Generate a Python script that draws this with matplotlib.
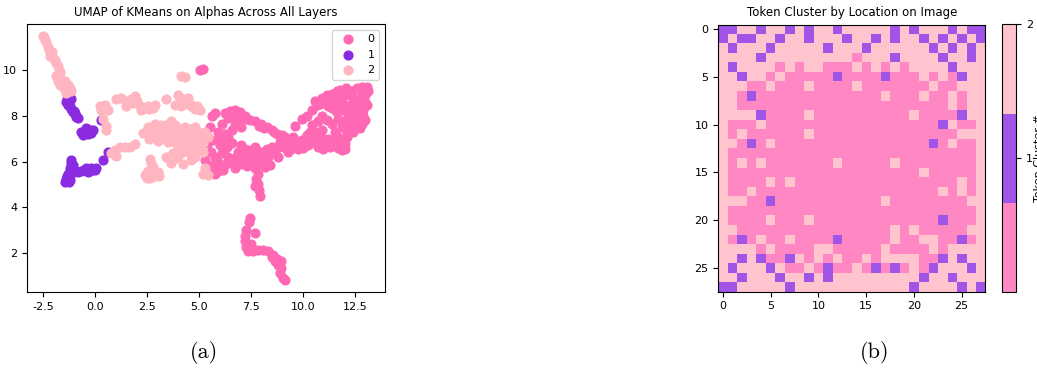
import numpy as np
import matplotlib
matplotlib.use("Agg")
import matplotlib.pyplot as plt
from matplotlib.colors import ListedColormap
from matplotlib.ticker import MultipleLocator, FormatStrFormatter

# UMAP embedding coordinates, one pair of lists per KMeans cluster
cluster0_x = [5.03, 5.2,
              5.6, 5.76, 5.52, 5.92, 5.76, 5.43, 6.0, 6.32, 6.08, 6.4, 5.76, 5.27, 5.43, 5.68,
              5.92, 6.16, 5.43, 5.76, 6.56, 6.72, 6.56, 6.24, 6.4,
              6.24, 6.48, 6.72, 6.96, 6.4, 6.8, 7.2, 7.44, 7.68, 8.0, 8.25, 8.49, 8.73, 8.97,
              6.72, 7.04, 6.56, 6.08,
              6.88, 7.2, 7.44, 7.68, 7.36, 7.68, 8.0, 8.25, 8.49, 8.65, 8.33, 8.0, 7.68, 7.84,
              8.17, 8.41, 8.81, 7.04, 6.8, 7.76, 7.84, 7.68, 7.88, 7.92,
              9.13, 9.29, 9.45, 9.7, 9.94, 10.18, 10.42, 10.66, 9.78, 9.53, 10.02, 10.26, 9.29,
              9.05, 8.89,
              9.61, 9.94, 10.18, 10.42, 10.66, 10.58, 10.9, 11.14, 11.38, 11.62, 11.3, 11.54,
              11.78, 11.94, 10.9, 11.14, 11.38, 10.9, 10.58, 11.54, 11.7, 11.86, 11.54, 11.3,
              10.98, 10.74, 12.02, 12.1, 11.86, 11.7, 11.94, 12.18, 12.34, 12.58, 12.83, 13.07,
              13.15, 12.99, 12.5, 12.34, 12.66, 12.9, 12.5, 12.74, 12.18, 12.02, 12.26, 12.5,
              12.74, 12.42, 12.1, 12.66, 12.83, 10.42, 10.74, 10.34,
              12.2, 12.4, 12.7, 13.0, 13.1, 12.9, 12.6, 12.3, 12.85, 13.0, 12.4, 11.9, 11.6,
              11.4, 12.05, 11.8, 10.8, 11.0, 11.2,
              11.0, 11.2, 11.4, 11.7, 11.9, 12.0, 10.6, 10.8,
              7.0, 7.2, 7.5, 7.8, 8.1, 8.4, 7.3, 7.55, 6.95, 8.6,
              5.9, 6.1, 6.2, 5.55, 6.3,
              7.9, 8.1, 8.6, 9.0, 7.3, 6.9,
              9.2, 9.6, 10.1, 9.4,
              7.44, 7.4, 7.28, 7.2, 7.23, 7.28, 7.36, 7.6, 7.52, 7.68, 7.84, 8.08, 8.33, 8.57,
              8.73, 8.81, 8.94, 8.89, 9.05, 9.13, 8.65, 8.52, 8.94]
cluster0_y = [10.0, 10.02,
              8.0, 8.1, 7.5, 7.3, 6.95, 6.8, 6.7, 6.65, 6.35, 6.2, 6.2, 6.05, 5.75, 5.85,
              5.6, 5.65, 5.45, 5.45, 5.95, 5.7, 6.8, 7.2, 7.05,
              8.1, 8.2, 8.25, 8.15, 7.9, 7.95, 8.0, 7.8, 7.75, 7.65, 7.5, 7.35, 7.2, 7.15,
              7.6, 7.5, 7.35, 7.65,
              6.4, 6.2, 5.95, 6.2, 6.5, 6.65, 6.4, 6.55, 6.65, 6.4, 6.2, 5.9, 5.7, 5.45,
              5.75, 5.85, 6.2, 5.9, 6.2, 5.25, 5.0, 4.95, 4.75, 4.5,
              7.05, 6.85, 6.65, 6.8, 6.95, 7.15, 6.95, 6.8, 6.55, 7.05, 6.6, 6.7, 6.4,
              6.65, 6.85,
              7.55, 7.85, 8.0, 8.25, 8.45, 8.65, 8.75, 8.9, 8.95, 9.05, 8.7, 8.55,
              8.8, 9.05, 8.0, 7.8, 7.65, 7.35, 7.3, 7.3, 7.05, 6.85, 6.8, 6.65,
              6.55, 6.65, 6.55, 7.05, 7.5, 7.85, 8.25, 8.4, 9.05, 9.2, 9.25, 9.25,
              9.05, 8.6, 8.7, 8.4, 8.3, 8.25, 8.0, 7.9, 7.95, 7.75, 7.5, 7.6,
              7.45, 7.3, 7.3, 8.7, 8.9, 7.6, 7.75, 7.3,
              8.9, 8.6, 8.55, 8.9, 8.45, 8.0, 7.75, 7.75, 7.65, 7.8, 8.2, 8.6, 8.2,
              8.35, 9.2, 9.1, 8.5, 8.6, 8.4,
              6.8, 7.0, 6.9, 6.6, 6.5, 6.75, 7.0, 7.1,
              6.7, 6.55, 6.35, 6.1, 6.1, 6.35, 5.8, 6.1, 6.0, 6.6,
              6.0, 6.9, 6.5, 6.4, 5.9,
              7.55, 7.45, 7.3, 7.05, 7.85, 7.8,
              6.95, 6.9, 6.85, 6.55,
              3.55, 3.35, 3.0, 2.75, 2.55, 2.3, 2.1, 2.1, 2.4, 2.9, 2.15, 2.15, 2.1, 1.95,
              1.75, 1.5, 1.35, 1.15, 0.95, 0.85, 1.65, 1.85, 1.65]

cluster1_x = [-1.23, -1.39, -1.31, -1.15, -1.07, -0.91, -0.83, -1.15, -0.99,
              -1.35, -1.2, -1.0, -0.9,
              -0.67, -0.43, -0.27, -0.11, -0.59, -0.35, -0.5, -0.2,
              0.3, 0.62, 0.38,
              -1.15, -1.07, -1.23, -0.99, -0.67, -0.43, -0.19, 0.05, -1.31, -1.39, -1.47,
              -1.23, -0.83, -0.35,
              -1.35, -1.2, -1.1, -0.9, -0.55, -0.25, 0.0, -1.15, -1.25]
cluster1_y = [8.82, 8.6, 8.45, 8.3, 8.15, 8.0, 7.9, 8.7, 8.1,
              8.7, 8.4, 8.2, 7.95,
              7.3, 7.45, 7.35, 7.35, 7.15, 7.2, 7.3, 7.25,
              7.8, 6.4, 6.05,
              6.05, 5.85, 5.7, 5.6, 5.6, 5.7, 5.7, 5.72, 5.45, 5.25, 5.1,
              5.2, 5.55, 5.55,
              5.35, 5.35, 5.55, 5.6, 5.65, 5.6, 5.65, 5.95, 5.1]

cluster2_x = [-2.5, -2.45, -2.35, -2.27, -2.2, -2.1, -2.03, -1.87, -1.8, -1.7, -1.87, -1.63,
              -1.47, -1.3, -1.55, -1.23, -1.15, -1.4, -1.7,
              -2.4, -2.15, -1.95, -1.75, -1.8, -1.6, -1.35, -1.25,
              0.22, 0.38, 0.54, 0.3, 0.6, 0.45, 0.3,
              0.38, 0.54, 0.5,
              0.78, 0.94, 1.18, 1.42, 1.66, 1.9, 1.02,
              1.02, 1.26, 1.5, 1.82, 1.9, 2.14, 2.38, 2.55, 2.78, 2.87, 1.5, 2.22,
              2.0, 1.7, 2.6,
              3.43,
              3.99, 4.07, 4.23, 4.39, 3.83, 4.63, 4.79, 5.03, 4.47, 4.15, 4.3, 4.55, 4.9,
              4.15, 4.3,
              2.55, 2.87, 3.19, 3.5, 3.83, 3.99, 3.67, 2.3, 2.62, 2.95, 3.27, 3.59, 3.91, 4.23,
              4.47, 4.71, 4.95, 3.03, 3.5, 4.23, 4.39, 4.63, 4.87, 5.1, 3.99, 3.75, 4.15, 4.47,
              4.79, 5.03, 5.19, 4.63, 4.23, 3.67, 5.27, 5.43, 5.19,
              3.1, 3.35, 3.7, 4.05, 4.3, 4.6, 4.8, 3.4, 2.75, 3.8, 4.1, 4.55, 5.0, 4.35,
              4.9, 3.95, 2.6,
              2.38, 2.62, 2.87, 3.03, 2.55, 2.79, 2.71, 2.62, 2.46, 2.7, 2.5, 3.05, 2.9,
              5.19, 5.43, 5.27,
              3.43]
cluster2_y = [11.45, 11.4, 11.2, 11.0, 10.85, 10.75, 10.5, 10.3, 10.15, 9.9, 9.7, 9.6,
              9.5, 9.35, 9.25, 9.2, 9.05, 9.0, 9.35,
              11.3, 10.6, 10.4, 10.0, 9.5, 9.4, 9.15, 9.05,
              8.4, 8.4, 8.35, 8.25, 8.25, 8.45, 8.35,
              7.85, 7.55, 7.35,
              6.35, 6.5, 6.65, 6.65, 6.65, 6.75, 6.25,
              8.7, 8.75, 8.65, 8.55, 8.85, 8.4, 8.35, 8.4, 8.35, 8.45, 8.4, 8.25,
              8.65, 8.7, 8.3,
              8.7,
              8.9, 8.75, 8.7, 8.55, 8.45, 8.4, 8.3, 8.25, 8.75, 8.4, 8.6, 8.5, 8.4,
              9.7, 9.68,
              7.5, 7.65, 7.6, 7.55, 7.6, 7.45, 7.75, 7.25, 7.2, 7.15, 7.05, 7.2, 7.3, 7.35,
              7.15, 7.05, 7.3, 6.9, 6.85, 7.0, 6.8, 6.65, 6.85, 6.9, 6.55, 6.35, 6.35, 6.4,
              6.2, 6.6, 6.4, 6.05, 5.9, 5.95, 7.3, 7.05, 6.8,
              7.4, 7.3, 7.4, 7.15, 7.5, 7.4, 7.5, 7.6, 7.35, 6.85, 6.75, 6.9, 7.1, 6.55,
              6.45, 6.15, 7.0,
              5.4, 5.3, 5.35, 5.55, 5.6, 5.75, 5.95, 6.1, 5.45, 5.45, 5.3, 5.35, 5.55,
              5.45, 5.4, 5.7,
              6.2]

cluster_labels = ["0", "1", "2"]
cluster_colors = ["hotpink", "blueviolet", "lightpink"]

# Cluster id of every token on the 28 x 28 patch grid
token_rows = [
    "1122122121221222221212221211",
    "1211221221222122121221212121",
    "2122212222212221222222121212",
    "2222122222222202221222212212",
    "2122220202200020202022221222",
    "2212202000001000010002020122",
    "2220020002000020000000200222",
    "2201000000000000020002002022",
    "2200000000000000000000002022",
    "2222100002000000000020000122",
    "2000200000000000000000012002",
    "2020000002000000000000000222",
    "2201020000000000000000102002",
    "2000000000000000000000000002",
    "2020200000002000002000000002",
    "2000000000000000000002000002",
    "2000020200000000000000000202",
    "2002000000000000000000020202",
    "2220010000000000020000000022",
    "2000000000000000000000000002",
    "2000020002000000000000010002",
    "2200000000000000002020000022",
    "2010200200001000002002200102",
    "2222020000220000020000202222",
    "2212100120202002022220012122",
    "2122212002010020101020122212",
    "2212221221212222222221221222",
    "1122222122222222222212222121",
]


def main():
    plt.rcParams["font.size"] = 8
    fig = plt.figure(figsize=(10.37, 3.68), dpi=100)

    # Left panel: UMAP scatter coloured by cluster
    ax1 = fig.add_axes([0.026, 0.2065, 0.345, 0.728])
    xs = [cluster0_x, cluster1_x, cluster2_x]
    ys = [cluster0_y, cluster1_y, cluster2_y]
    for x, y, label, color in zip(xs, ys, cluster_labels, cluster_colors):
        ax1.scatter(x, y, s=40, color=color, label=label)
    ax1.xaxis.set_major_locator(MultipleLocator(2.5))
    ax1.xaxis.set_major_formatter(FormatStrFormatter("%.1f"))
    ax1.set_title("UMAP of KMeans on Alphas Across All Layers", fontsize=8.5)
    ax1.legend(loc="upper right", fontsize=8)

    # Right panel: cluster id by token position
    grid = np.array([[int(c) for c in row] for row in token_rows])
    cmap = ListedColormap(cluster_colors)
    ax2 = fig.add_axes([0.6927, 0.2065, 0.2575, 0.7275])
    im = ax2.imshow(grid, cmap=cmap, alpha=0.8, vmin=0, vmax=2)
    ax2.set_title("Token Cluster by Location on Image", fontsize=8.5)

    cax = fig.add_axes([0.9662, 0.2065, 0.0135, 0.7275])
    cbar = fig.colorbar(im, cax=cax, ticks=[1, 2])
    cbar.set_label("Token Cluster #", labelpad=1)

    # Sub-figure captions
    fig.text(0.197, 0.043, "(a)", ha="center", va="center",
             family=["cmr10", "DejaVu Serif"], fontsize=16)
    fig.text(0.8438, 0.043, "(b)", ha="center", va="center",
             family=["cmr10", "DejaVu Serif"], fontsize=16)

    fig.savefig("out.png", dpi=100)


if __name__ == "__main__":
    main()
